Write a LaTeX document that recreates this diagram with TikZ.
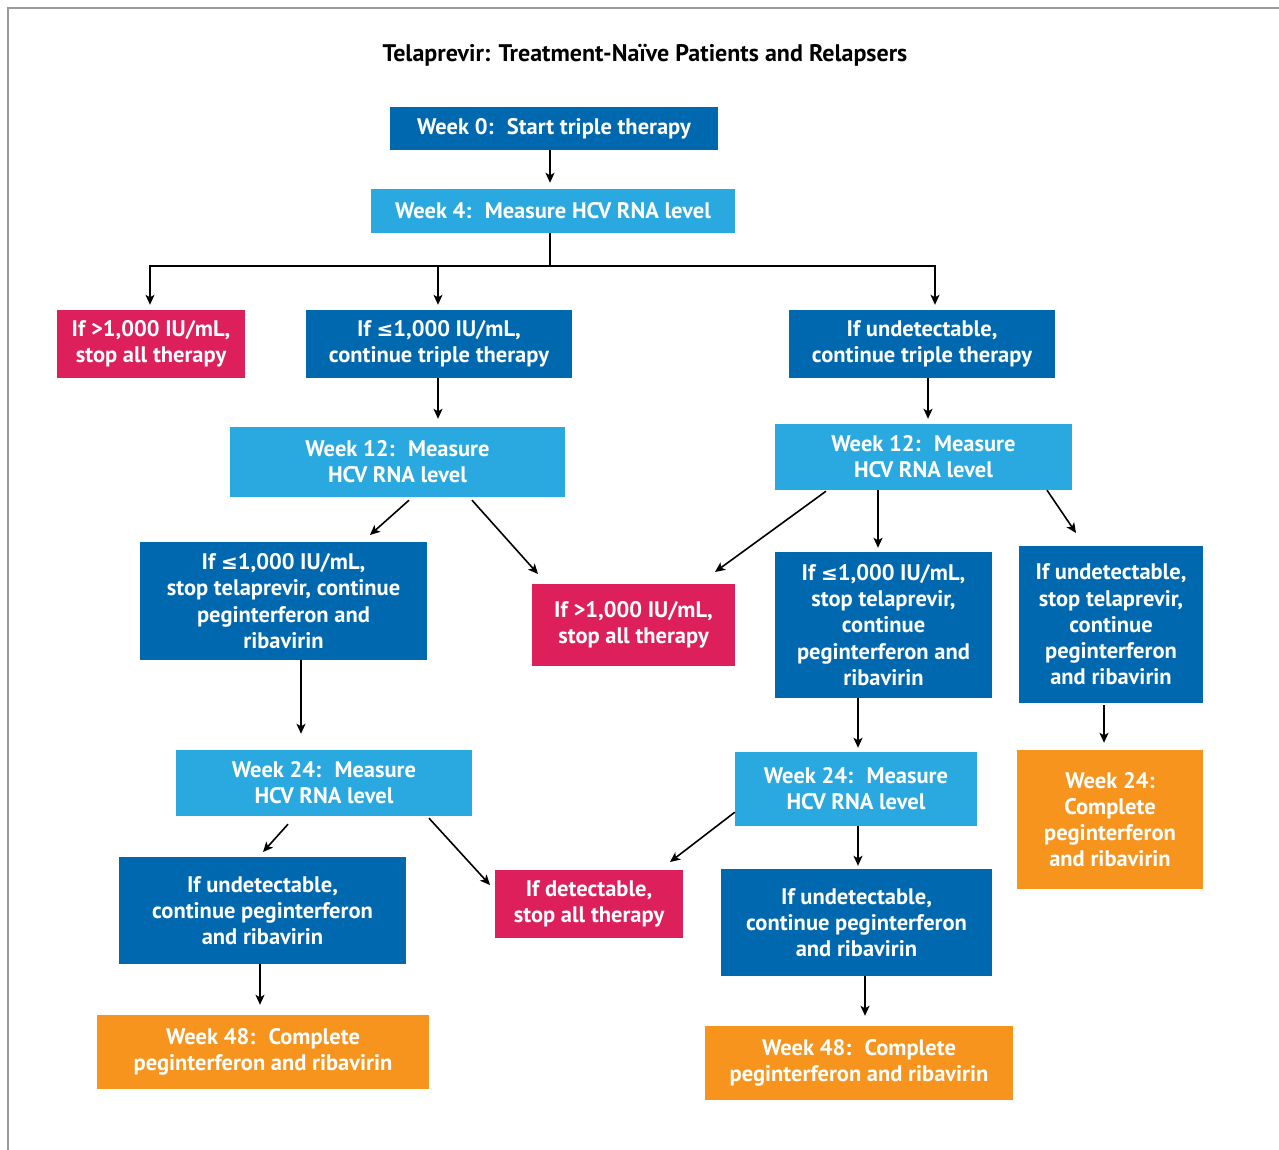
\documentclass[tikz,border=0pt]{standalone}
\usepackage{fontspec}
\setmainfont{PT Sans}
\newfontfamily\symf{DejaVu Sans}
\usetikzlibrary{arrows.meta}
\definecolor{dkblue}{HTML}{0068AE}
\definecolor{ltblue}{HTML}{29A9E0}
\definecolor{redbox}{HTML}{DD1F5B}
\definecolor{orbox}{HTML}{F7941E}
\definecolor{frame}{HTML}{9A9A9A}
\newcommand{\lesym}{{\symf\bfseries\fontsize{20}{26}\selectfont ≤}}
\begin{document}
\begin{tikzpicture}[x=1pt,y=-1pt,
  box/.style={inner sep=0pt, align=center, text=white, font=\fontsize{22.5}{26.2}\selectfont\bfseries},
  dk/.style={box, fill=dkblue},
  lt/.style={box, fill=ltblue},
  rd/.style={box, fill=redbox},
  og/.style={box, fill=orbox},
  sz/.style 2 args={minimum width=#1pt, minimum height=#2pt},
  arr/.style={line width=1.6pt, -{Stealth[length=10pt,width=9pt,inset=2.5pt]}},
  ln/.style={line width=1.6pt}]
\useasboundingbox (0,0) rectangle (1279,1150);
\draw[frame, line width=1.5pt] (8,1150) -- (8,8) -- (1279,8);
\node[font=\fontsize{24}{28}\selectfont\bfseries] (title) at (645,55) {Telaprevir: Treatment-Naïve Patients and Relapsers};

\node[dk, sz={328}{43}] (W0) at (554,128.5) {Week 0:~ Start triple therapy};
\node[lt, sz={364}{44}] (W4) at (553,211) {Week 4:~ Measure HCV RNA level};
\node[rd, sz={188}{68}] (R1) at (151,344) {If >1,000 IU/mL,\\stop all therapy};
\node[dk, sz={266}{68}] (D1) at (439,344) {If \lesym1,000 IU/mL,\\continue triple therapy};
\node[dk, sz={266}{68}] (D2) at (922,344) {If undetectable,\\continue triple therapy};
\node[lt, sz={335}{70}] (W12a) at (397.5,462) {Week 12:~ Measure\\HCV RNA level};
\node[lt, sz={297}{66}] (W12b) at (923.5,457) {Week 12:~ Measure\\HCV RNA level};
\node[dk, sz={287}{118}] (D3) at (283.5,601) {If \lesym1,000 IU/mL,\\stop telaprevir, continue\\peginterferon and\\ribavirin};
\node[rd, sz={203}{82}] (R2) at (633.5,625) {If >1,000 IU/mL,\\stop all therapy};
\node[dk, sz={217}{146}] (D4) at (883.5,625) {If \lesym1,000 IU/mL,\\stop telaprevir,\\continue\\peginterferon and\\ribavirin};
\node[dk, sz={184}{157}] (D5) at (1111,624.5) {If undetectable,\\stop telaprevir,\\continue\\peginterferon\\and ribavirin};
\node[lt, sz={296}{66}] (W24a) at (324,783) {Week 24:~ Measure\\HCV RNA level};
\node[lt, sz={242}{74}] (W24b) at (856,789) {Week 24:~ Measure\\HCV RNA level};
\node[og, sz={186}{139}] (O1) at (1110,819.5) {Week 24:\\Complete\\peginterferon\\and ribavirin};
\node[dk, sz={287}{107}] (D6) at (262.5,910.5) {If undetectable,\\continue peginterferon\\and ribavirin};
\node[rd, sz={188}{68}] (R3) at (589,904) {If detectable,\\stop all therapy};
\node[dk, sz={271}{107}] (D7) at (856.5,922.5) {If undetectable,\\continue peginterferon\\and ribavirin};
\node[og, sz={332}{74}] (O2) at (263,1052) {Week 48:~ Complete\\peginterferon and ribavirin};
\node[og, sz={308}{74}] (O3) at (859,1063) {Week 48:~ Complete\\peginterferon and ribavirin};

% vertical connectors
\draw[arr, shorten >=6pt] ([xshift=-4pt]W0.south) -- ([xshift=-4pt]W0.south |- W4.north);
\coordinate (br) at (550,266);
\draw[ln] ([xshift=-3pt]W4.south) -- (br);
\draw[arr, shorten >=5pt] (br) -| ([xshift=-1pt]R1.north);
\draw[arr, shorten >=5pt] (br) -| ([xshift=-1pt]D1.north);
\draw[arr, shorten >=5pt] (br) -| ([xshift=13pt]D2.north);
\draw[arr, shorten >=8pt] ([xshift=-1pt]D1.south) -- ([xshift=-1pt]D1.south |- W12a.north);
\draw[arr, shorten >=5pt] ([xshift=6pt]D2.south) -- ([xshift=6pt]D2.south |- W12b.north);
\draw[arr, shorten >=4pt] ([xshift=-45.5pt]W12b.south) -- ([xshift=-45.5pt]W12b.south |- D4.north);
\draw[arr, shorten >=16pt] ([xshift=17.5pt]D3.south) -- ([xshift=17.5pt]D3.south |- W24a.north);
\draw[arr, shorten >=4pt] ([xshift=-25.5pt]D4.south) -- ([xshift=-25.5pt]D4.south |- W24b.north);
\draw[arr, shorten >=7pt] ([xshift=-7pt,yshift=-2pt]D5.south) -- ([xshift=-7pt]D5.south |- O1.north);
\draw[arr, shorten >=3pt] ([xshift=2pt]W24b.south) -- ([xshift=2pt]W24b.south |- D7.north);
\draw[arr, shorten >=10pt] ([xshift=-2.5pt]D6.south) -- ([xshift=-2.5pt]D6.south |- O2.north);
\draw[arr, shorten >=10pt] ([xshift=8.5pt]D7.south) -- ([xshift=8.5pt]D7.south |- O3.north);

% diagonal connectors
\coordinate (e1) at (370,535);
\coordinate (e2) at (538,574);
\coordinate (e3) at (715,572);
\coordinate (e4) at (1076,533);
\coordinate (e5) at (263,852);
\coordinate (e6) at (490,885);
\coordinate (e7) at (670,862);
\draw[arr] ([xshift=11.5pt,yshift=-3pt]W12a.south) -- (e1);
\draw[arr] ([xshift=74.5pt,yshift=-3pt]W12a.south) -- (e2);
\draw[arr] ([xshift=-97.5pt,yshift=-1pt]W12b.south) -- (e3);
\draw[arr] ([xshift=123.5pt]W12b.south) -- (e4);
\draw[arr] ([xshift=-36pt,yshift=-8pt]W24a.south) -- (e5);
\draw[arr] ([xshift=105pt,yshift=-2pt]W24a.south) -- (e6);
\draw[arr] ([yshift=14pt]W24b.south west) -- (e7);
\end{tikzpicture}
\end{document}
